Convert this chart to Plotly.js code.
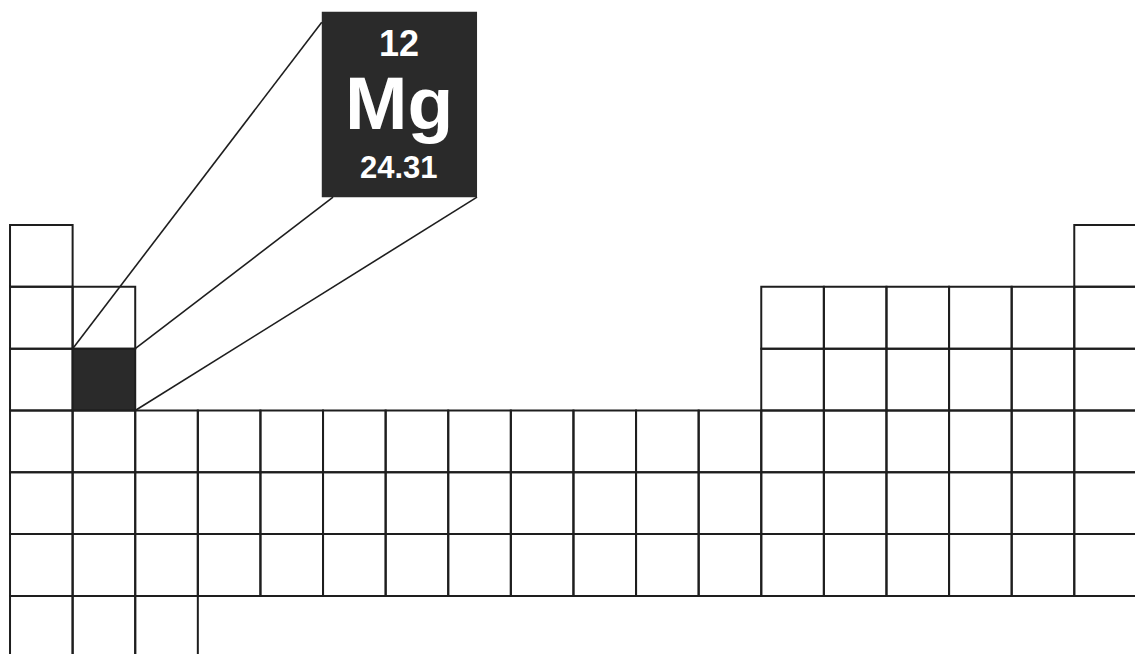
<!DOCTYPE html>
<html>
<head>
<meta charset="utf-8">
<script src="https://cdn.plot.ly/plotly-3.0.1.min.js"></script>
<style>
  html, body { margin: 0; padding: 0; background: #fff; }
  #plot { width: 1135px; height: 654px; }
</style>
</head>
<body>
<div id="plot"></div>
<script>
// groups present in each period (row) of the table outline
const periodGroups = [
  [1, 18],
  [1, 2, 13, 14, 15, 16, 17, 18],
  [1, 2, 13, 14, 15, 16, 17, 18],
  [1, 2, 3, 4, 5, 6, 7, 8, 9, 10, 11, 12, 13, 14, 15, 16, 17, 18],
  [1, 2, 3, 4, 5, 6, 7, 8, 9, 10, 11, 12, 13, 14, 15, 16, 17, 18],
  [1, 2, 3, 4, 5, 6, 7, 8, 9, 10, 11, 12, 13, 14, 15, 16, 17, 18],
  [1, 2, 3]
];

// highlighted element
const highlight = { group: 2, period: 3 };
const elementNumber = '12';
const elementSymbol = 'Mg';
const elementMass = '24.31';

// magnified card, in table units (x = group edge, y = period edge)
const cardX = [4.98, 7.46];
const cardY = [-3.45, -0.45];
// where the three pointer lines reach the card
const pointerEndX = [4.98, 5.16, 7.46];
const pointerEndY = [-3.28, -0.45, -0.45];

const ink = '#1e1e1e';
const dark = '#2a2a2a';

function cellShapes() {
  const shapes = [];
  periodGroups.forEach((groups, i) => {
    const period = i + 1;
    for (const g of groups) {
      const isHi = g === highlight.group && period === highlight.period;
      shapes.push({
        type: 'rect', xref: 'x', yref: 'y',
        x0: g - 1, x1: g, y0: period - 1, y1: period,
        fillcolor: isHi ? dark : 'rgba(0,0,0,0)',
        line: { color: ink, width: 2 },
        layer: 'above'
      });
    }
  });
  return shapes;
}

function pointerShapes() {
  const gx = highlight.group, py = highlight.period;
  // top-left, top-right, bottom-right corners of the highlighted cell
  const startX = [gx - 1, gx, gx];
  const startY = [py - 1, py - 1, py];
  return startX.map((sx, i) => ({
    type: 'line', xref: 'x', yref: 'y',
    x0: sx, y0: startY[i], x1: pointerEndX[i], y1: pointerEndY[i],
    line: { color: ink, width: 1.6 }
  }));
}

const cardShape = {
  type: 'rect', xref: 'x', yref: 'y',
  x0: cardX[0], x1: cardX[1], y0: cardY[0], y1: cardY[1],
  fillcolor: dark, line: { width: 0 }
};

const midX = (cardX[0] + cardX[1]) / 2;
const cardFont = 'Liberation Sans, Arial, sans-serif';

const annotations = [
  { text: '<b>' + elementNumber + '</b>', y: -2.93, size: 36 },
  { text: '<b>' + elementSymbol + '</b>', y: -1.98, size: 75 },
  { text: '<b>' + elementMass + '</b>', y: -0.93, size: 31 }
].map(a => ({
  xref: 'x', yref: 'y', x: midX, y: a.y,
  text: a.text, showarrow: false,
  xanchor: 'center', yanchor: 'middle',
  font: { family: cardFont, size: a.size, color: '#ffffff' }
}));

const layout = {
  width: 1135,
  height: 654,
  margin: { l: 0, r: 0, t: 0, b: 0 },
  paper_bgcolor: '#ffffff',
  plot_bgcolor: '#ffffff',
  showlegend: false,
  xaxis: { range: [-0.16, 17.97], visible: false, fixedrange: true },
  yaxis: { range: [6.94, -3.64], visible: false, fixedrange: true },
  shapes: [cardShape, ...pointerShapes(), ...cellShapes()],
  annotations: annotations
};

Plotly.newPlot('plot', [{ x: [], y: [], type: 'scatter', mode: 'lines' }], layout, {
  staticPlot: true,
  displayModeBar: false
});
</script>
</body>
</html>
